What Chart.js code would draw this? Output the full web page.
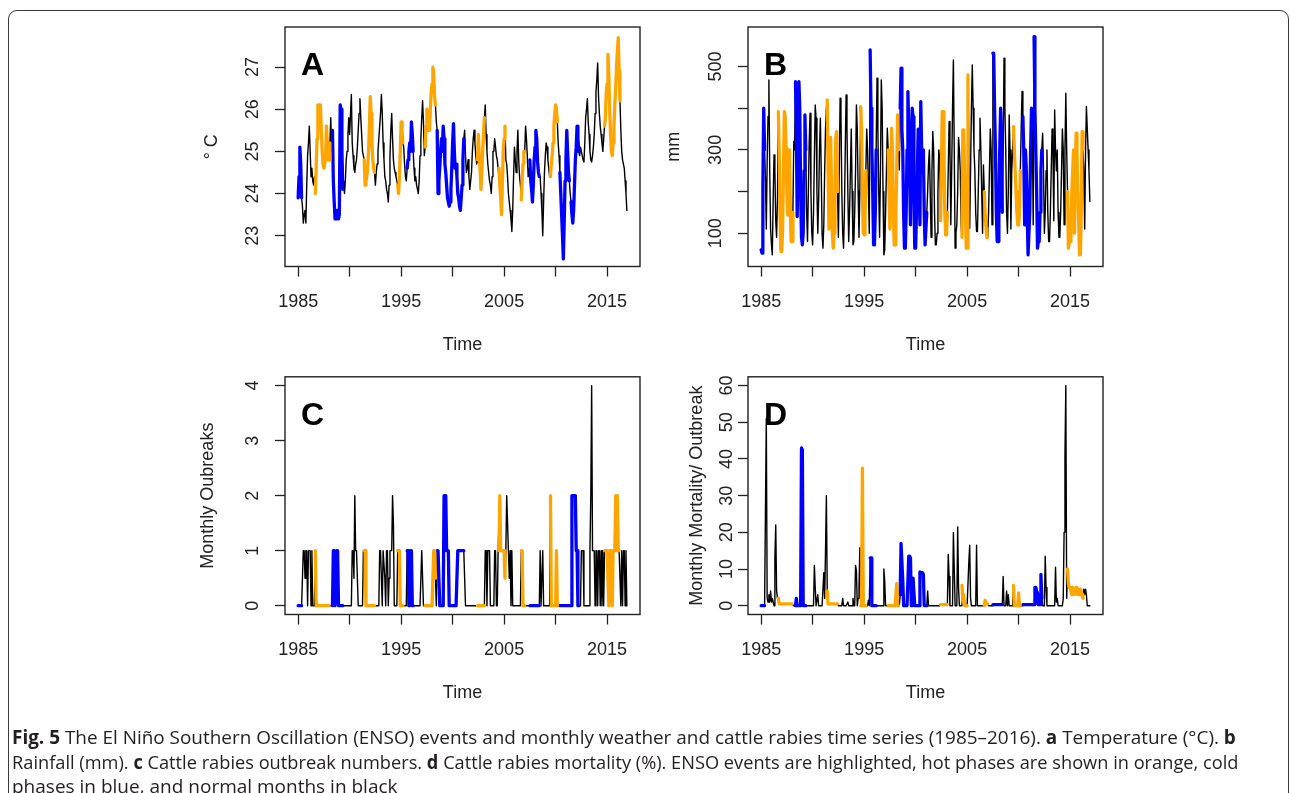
<!DOCTYPE html>
<html><head><meta charset="utf-8">
<script src="https://cdn.jsdelivr.net/npm/chart.js@4.4.1/dist/chart.umd.min.js"></script>
<style>
html,body{margin:0;padding:0;background:#fff;width:1290px;height:793px;overflow:hidden;position:relative}
canvas{position:absolute;left:0;top:0;pointer-events:none}
#frame{position:absolute;left:8px;top:10px;width:1281px;height:840px;border:1.5px solid #3a3a3a;border-radius:9px;box-sizing:border-box}
.cap{position:absolute;left:12px;white-space:nowrap;font-family:'Open Sans',sans-serif;font-size:19px;line-height:24px;color:#231f20;transform-origin:0 50%}
.cap b{font-weight:700}
</style></head><body>
<div id="frame"></div>
<canvas id="cA" width="1290" height="793"></canvas>
<canvas id="cB" width="1290" height="793"></canvas>
<canvas id="cC" width="1290" height="793"></canvas>
<canvas id="cD" width="1290" height="793"></canvas>
<div class="cap" id="cap1" style="top:725px"><b>Fig. 5</b> The El Niño Southern Oscillation (ENSO) events and monthly weather and cattle rabies time series (1985–2016). <b>a</b> Temperature (°C). <b>b</b></div>
<div class="cap" id="cap2" style="top:750px">Rainfall (mm). <b>c</b> Cattle rabies outbreak numbers. <b>d</b> Cattle rabies mortality (%). ENSO events are highlighted, hot phases are shown in orange, cold</div>
<div class="cap" id="cap3" style="top:774px">phases in blue, and normal months in black</div>
<script>
// ---- monthly series, Jan 1985 .. Dec 2016 (12 values per row) ----
const startYear = 1985;
const temperature = [
23.9,24.4,25.1,24.7,23.9,23.7,23.3,23.5,23.6,23.3,24.2,24.9,
25.2,25.6,25.0,24.4,24.6,24.3,24.2,24.4,24.0,24.6,25.3,26.1,
26.1,26.0,26.1,25.5,25.0,24.7,24.6,24.7,24.9,25.6,25.2,24.8,
24.8,25.2,25.8,25.0,25.5,24.3,23.8,23.4,23.5,23.4,23.6,23.4,
23.5,26.1,26.0,25.0,24.1,24.3,24.0,24.3,24.8,25.0,25.4,25.8,
25.4,25.9,26.35,25.2,24.9,24.6,24.5,24.7,24.8,25.1,25.5,25.9,
26.25,25.8,25.4,25.0,24.9,24.8,24.2,24.3,24.4,24.6,25.0,25.6,
26.3,25.9,25.2,24.8,24.6,24.5,24.2,24.5,24.7,25.0,25.3,25.6,
25.9,26.35,25.9,25.2,24.8,24.4,24.3,24.1,24.0,23.8,24.2,24.9,
25.5,25.9,25.3,24.8,24.6,24.5,24.4,24.3,24.2,24.0,24.4,25.0,
25.7,25.5,25.2,25.1,24.7,24.4,24.3,24.6,24.8,25.0,25.2,25.0,
25.7,25.4,25.0,24.6,24.3,24.4,24.2,24.1,24.0,24.3,24.9,25.3,
25.8,26.2,25.7,24.9,25.1,25.6,26.0,25.8,25.5,25.5,26.0,26.4,
26.6,27.0,26.8,26.3,26.1,25.7,25.5,24.0,24.3,24.6,25.0,25.3,
25.0,25.6,25.3,24.7,24.5,24.2,23.9,23.8,23.7,23.8,24.1,24.6,
25.2,25.66,25.0,24.6,24.7,24.4,24.0,23.9,23.7,23.6,23.9,24.2,
24.8,25.3,25.5,24.9,24.5,24.6,24.8,24.4,24.1,24.3,24.5,25.0,
25.3,25.5,25.2,24.9,24.7,24.8,25.4,24.9,24.6,24.1,24.5,25.0,
25.4,25.8,26.1,25.4,25.0,24.7,24.5,24.3,24.2,24.0,24.4,25.0,
25.0,25.3,25.1,24.9,24.8,24.6,24.6,24.2,23.9,23.5,24.3,25.0,
25.3,25.6,24.8,24.7,24.4,24.0,23.8,23.6,23.4,23.1,23.6,24.4,
25.1,24.8,24.5,25.0,25.5,24.8,24.4,24.2,23.85,24.3,24.7,25.0,
25.0,25.6,25.3,24.9,24.4,24.6,24.8,24.3,24.1,23.8,24.2,24.8,
25.1,25.5,25.3,24.75,24.5,24.4,24.4,24.0,23.6,23.0,23.8,24.5,
24.9,25.2,25.1,24.8,24.6,24.4,24.4,24.7,24.9,25.2,25.6,25.9,
26.1,26.0,25.7,25.2,24.9,24.5,24.0,23.5,23.0,22.45,23.3,24.3,
24.8,25.5,25.0,24.5,24.3,24.0,23.8,23.5,23.3,23.6,24.2,24.8,
25.1,25.6,25.3,25.0,24.9,25.1,25.0,24.9,24.8,24.75,25.2,25.8,
26.0,26.25,25.7,25.4,25.0,24.8,24.75,24.9,25.1,25.4,25.9,26.4,
26.7,27.1,26.3,25.9,25.6,25.4,25.2,25.0,25.3,25.6,25.8,26.4,
26.6,27.3,26.8,26.0,25.4,25.0,24.9,25.2,25.6,26.1,26.5,27.0,
27.4,27.7,26.9,26.2,25.5,25.0,24.8,24.7,24.6,24.3,24.0,23.6];
const rainfall = [
60,52,212,400,300,232,110,272,380,468,250,110,
72,48,180,288,250,130,90,180,392,300,150,56,
56,110,250,392,380,304,200,144,250,300,150,80,
80,150,320,300,464,350,140,300,464,400,200,90,
72,100,250,384,300,150,80,200,320,388,200,100,
72,150,280,408,376,200,100,180,300,376,250,100,
64,120,250,350,400,420,250,110,250,330,200,100,
64,100,220,330,344,200,90,250,424,380,200,100,
64,150,300,432,350,200,80,150,250,350,200,72,
80,150,250,408,350,200,90,200,404,350,200,100,
96,130,250,350,300,200,100,540,400,300,200,72,
72,150,300,472,350,200,90,250,468,400,200,48,
60,150,250,352,300,200,110,250,352,300,150,72,
72,150,250,384,300,252,400,496,350,300,150,64,
64,150,300,440,350,250,120,300,400,380,200,64,
64,150,250,350,300,120,416,300,248,300,150,72,
72,150,200,264,300,200,90,250,344,300,150,72,
72,100,200,300,280,130,250,392,392,300,150,96,
96,150,250,368,300,120,250,400,516,300,64,100,
120,200,330,300,250,120,90,348,348,250,150,64,
64,480,300,112,250,400,504,400,300,250,150,104,
104,200,300,376,300,200,100,264,200,150,112,90,
90,150,250,350,300,120,532,532,400,300,150,80,
80,150,300,400,350,150,300,520,400,300,150,100,
200,384,300,110,250,300,356,300,250,200,150,120,
120,150,250,350,440,380,300,120,300,250,150,48,
48,150,300,400,350,120,572,400,300,200,64,80,
80,150,250,300,340,250,100,150,250,300,150,80,
80,150,250,350,300,130,396,300,250,300,150,90,
90,150,250,350,300,120,300,436,300,200,64,80,
80,120,200,250,300,100,250,340,300,200,120,48,
48,150,344,300,250,110,300,404,350,300,250,176];
const outbreaks = [
0,0,0,0,0,0.5,1,1,0.5,1,1,0,
1,1,1,0,1,0,0,0,1,0,0,0,
0,0,0,0,0,0,0,0,0,0,0,0,
0,0,0,0,0,1,1,0,0,1,1,0,
0,0,0,0,0,0,0,0,0,0,0,0,
0,0,0,1,1,0.5,2,1,1,0.5,0,0,
0,0,0,0,1,1,1,0,0,0,0,0,
0,0,0,0,0,0,0,0,0,0,0,1,
1,0.5,0,1,1,0.5,0,1,1,0,0.5,1,
1,1,2,1.5,0,0,0,0,1,1,1,0,
0,0,0,0,0,0,0,1,1,0,0,1,
1,0,0,0,0,0,0,0,0,0,0,0,
1,0.5,0,0,0,0,0,0,0,0,0,0,
0,0,1,1,0.5,0,1,1,1,0,0,0,
0,0,2,2,2,1,1,1,0,0,0,0,
0,0,0,0,0,0,1,1,1,1,1,1,
1,1,0.5,0,0,0,0,0,0,0,0,0,
0,0,0,0,0,0,0,0,0,0,0,0,
0,0,1,1,0,1,1,1,0,0,0,0,
0,1,1,0,0,1,1,2,1,1,1,1,
1,0.5,1,2,1.5,1,0.5,1,0,1,0,0,
0,0,0,0,0,0,0,0,1,1,0,0,
0,0,0,0,0,0,0,0,0,0,0,0,
0,0,0,0,0,0,1,0,0,1,0,0,
0,0,0,0,0,0,2,0,0,0,0,0,
0,1,0,0,0,0,0,0,0,0,0,0,
0,0,0,0,0,0,0,2,2,2,2,2,
1,1,0,0,0,0,1,1,1,0,0,0,
0,0,0,0,1,2,4,1,1,1,0,1,
1,0,1,1,0,1,0,1,0,1,1,1,
1,1,0,1,1,1,0,1,1,1,2,1,
2,1,1,1,0,1,0,1,1,0,1,0];
const mortality = [
0,0,0,0,0,25.6,51,2,1,3,1,4,
1,2,1,0,13,22,4,2,2,0.5,0.5,0.5,
0.5,0.5,0.5,0.5,0.5,0.5,0.5,0.5,0.5,0.5,0.5,0.5,
0.5,0.5,0,0,0,2,0,0,0,0,0,43,
42.5,0,0,0,0,0,0,0,0,0,0,0,
0,0,11,5,0,0,3,0,0,0,0,0,
0,9,2,15,30,4,0.5,0.5,0.5,0.5,0.5,0.5,
0.5,0.5,0.5,0.5,0.5,0.5,0,0,0,0,0,2,
0,0,0,0,0,1,0,0,0,0,0,2,
0,0,11,9.5,0,2,5,15.8,0,0,37.5,0,
0,0,0,0,0,1.5,0,13,13,0,0,0,
0,0,0,0,0,0,0,0,0,0,0,10,
6.5,0,0,0,0,0,0,0,0,0,0,0,
0,0,6,0,0,0,3,17,17,7,0,0,
0,0,0,0,13.5,13.5,13,0,0,7.5,7.5,0,
0,0,0,0,0,9.2,9,9,9,8.5,0,0,
0,0,4,0,0,0,0,0,0,0,0,0,
0,0,0,0,0,0.3,0.3,0.3,0.3,0.3,0.3,0.3,
0.3,0.3,14,8,0,0,0,0,20,10,0,0,
0,21.5,5,0,0,0,5.5,1,3,0,0,0,
0,0,12,16.5,2,0,0,0,0,0,0,16.5,
0,0,0,0,0,0,0,0,0,1.5,0.5,0.5,
0.5,0,0,0,0,0,0.3,0.3,0.3,0.3,0.3,0.3,
0.3,0.3,0.3,0.3,0.3,0.3,8,0,0,0,4,0,
3,0,0,0,0,0,5.5,0,0,0,0,0,
3.5,0,0,0,0,0.3,0.3,0.3,0.3,0.3,0.3,0.3,
0.3,0.3,0.3,0.3,0.3,0,0.3,5,5,4,3.5,0.3,
0.3,0.3,8.5,2,0,0,0,13.5,5,0,0,0,
0,0,0,0,0,0,0,10.5,1,2,0,0,
0,0,0,0,2,20,41,60,2,10,6,5,
5,5,3,5,4.5,3,4,5,4.5,3,4.5,3,
4.5,4,3,2,4.5,3,4.5,3,0,0,0,0];

// ENSO phases (first month, last month)
const hotPhases = [['1986-09','1988-02'],['1991-06','1992-06'],['1994-09','1995-03'],['1997-05','1998-05'],
  ['2002-06','2003-02'],['2004-07','2005-02'],['2006-09','2007-01'],['2009-07','2010-03'],['2014-10','2016-04']];
const coldPhases = [['1985-01','1985-05'],['1988-05','1989-05'],['1995-08','1996-03'],['1998-07','2001-02'],
  ['2007-07','2008-06'],['2010-06','2011-05'],['2011-07','2012-04']];

const xTicks = [1985,1990,1995,2000,2005,2010,2015];
const xLabels = [1985,1995,2005,2015];
const tempTicks = [23,24,25,26,27];
const rainTicks = [100,200,300,400,500], rainLabels = [100,300,500];
const outbreakTicks = [0,1,2,3,4];
const mortalityTicks = [0,10,20,30,40,50,60];

// ---- fonts ----
const FAM = "'Liberation Sans', Arial, sans-serif", FS = 18, LETTER = 32;
const meas = document.createElement('canvas').getContext('2d');

// ---- time & phases ----
const N = temperature.length;
const times = Array.from({length:N},(_,i)=>startYear + i/12);
function mIdx(s){const [y,m]=s.split('-').map(Number);return (y-startYear)*12+m-1;}
const phase = new Array(N).fill(0);
hotPhases.forEach(([a,b])=>{for(let i=mIdx(a);i<=mIdx(b);i++)phase[i]=1;});
coldPhases.forEach(([a,b])=>{for(let i=mIdx(a);i<=mIdx(b);i++)phase[i]=2;});

const TL = 10, XH = 110, YW = 130, LH = 1.2;
const framePlugin = {
  id:'frame',
  afterDraw(chart, args, opts){
    const {ctx, chartArea:a} = chart;
    ctx.save();
    ctx.strokeStyle='#222'; ctx.lineWidth=1.4;
    ctx.strokeRect(a.left, a.top, a.right-a.left, a.bottom-a.top);
    ctx.font = 'bold '+LETTER+'px '+FAM; ctx.fillStyle='#000'; ctx.textBaseline='alphabetic'; ctx.textAlign='left';
    ctx.fillText(opts.letter, a.left+16, a.top+48);
    ctx.restore();
  }
};

function panel(id, p){
  const font = {family:FAM, size:FS};
  meas.font = FS+'px '+FAM;
  const widest = Math.max(...p.yTicks.filter(v=>p.yShown.includes(v)).map(v=>meas.measureText(String(v)).width));
  const PL = p.box.l - YW;
  const mk = (code,color,w)=>({
    data: times.map((t,i)=>({x:t, y: (code===null || phase[i]===code) ? p.values[i] : null})),
    borderColor:color, borderWidth:w, pointRadius:0, tension:0, spanGaps:false,
    borderJoinStyle:'round', borderCapStyle:'round', fill:false
  });
  new Chart(document.getElementById(id), {
    type:'line',
    data:{datasets:[mk(1,'#FFA500',3.3), mk(2,'#0000FF',3.3), mk(null,'#000000',1.4)]},
    plugins:[framePlugin],
    options:{
      responsive:false, animation:false, devicePixelRatio:1,
      layout:{padding:{left:PL, top:p.box.t, right:1290-p.box.r, bottom:793-p.box.b-XH}},
      plugins:{legend:{display:false}, tooltip:{enabled:false}, frame:{letter:p.letter}},
      scales:{
        x:{type:'linear', position:'bottom', min:1983.723, max:2018.194,
          afterBuildTicks:s=>{s.ticks = xTicks.map(v=>({value:v}));},
          afterFit:s=>{s.height = XH;},
          ticks:{autoSkip:false, maxRotation:0, minRotation:0, color:'#222', font,
            padding:(p.xTickC - p.box.b) - TL - LH*FS/2,
            callback:v=> xLabels.includes(v) ? String(v) : ''},
          grid:{display:true, drawOnChartArea:false, drawTicks:true, tickLength:TL, tickWidth:1.3, tickColor:'#222'},
          border:{display:false},
          title:{display:true, text:'Time', color:'#222', font,
            padding:{top:0, bottom:(p.box.b + XH) - p.xTitleC - LH*FS/2}}
        },
        y:{type:'linear', position:'left', min:p.yMin, max:p.yMax,
          afterBuildTicks:s=>{s.ticks = p.yTicks.map(v=>({value:v}));},
          afterFit:s=>{s.width = YW;},
          ticks:{autoSkip:false, minRotation:90, maxRotation:90, crossAlign:'center', color:'#222', font,
            padding:(p.box.l - p.yTickC) - TL - widest/2,
            callback:v=> p.yShown.includes(v) ? String(v) : ''},
          grid:{display:true, drawOnChartArea:false, drawTicks:true, tickLength:TL, tickWidth:1.3, tickColor:'#222'},
          border:{display:false},
          title:{display:true, text:p.yTitle, color:'#222', font,
            padding:{top:p.yTitleC - PL - LH*FS/2, bottom:0}}
        }
      }
    }
  });
}

const boxTop = {t:27, b:266.5}, boxBot = {t:376.8, b:614.5};
panel('cA', {box:{l:285, r:640, ...boxTop}, values:temperature, yMin:22.27, yMax:27.95,
  yTicks:tempTicks, yShown:tempTicks, yTitle:'° C', letter:'A',
  yTickC:253, yTitleC:211.7, xTickC:301.7, xTitleC:345});
panel('cB', {box:{l:748, r:1103, ...boxTop}, values:rainfall, yMin:20, yMax:595,
  yTicks:rainTicks, yShown:rainLabels, yTitle:'mm', letter:'B',
  yTickC:716, yTitleC:674, xTickC:301.7, xTitleC:345});
panel('cC', {box:{l:285, r:640, ...boxBot}, values:outbreaks, yMin:-0.16, yMax:4.16,
  yTicks:outbreakTicks, yShown:outbreakTicks, yTitle:'Monthly Oubreaks', letter:'C',
  yTickC:253, yTitleC:208, xTickC:649.7, xTitleC:693});
panel('cD', {box:{l:748, r:1103, ...boxBot}, values:mortality, yMin:-2.4, yMax:62.4,
  yTicks:mortalityTicks, yShown:mortalityTicks, yTitle:'Monthly Mortality/ Outbreak', letter:'D',
  yTickC:727, yTitleC:697, xTickC:649.7, xTitleC:693});

// fit caption lines to their measured widths
const capTargets = {cap1:1224, cap2:1226, cap3:386};
Object.entries(capTargets).forEach(([id,w])=>{
  const e=document.getElementById(id); const cw=e.scrollWidth;
  if(cw>0) e.style.transform='scaleX('+(w/cw)+')';
});
</script>
</body></html>
